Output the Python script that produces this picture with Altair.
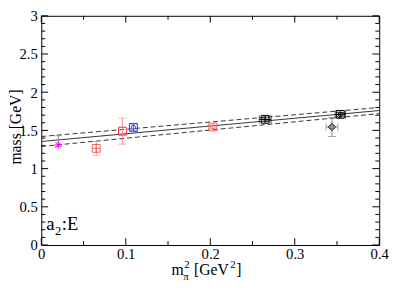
import altair as alt
import pandas as pd

# ---- data ----
mpi2 = [0.020, 0.065, 0.096, 0.109, 0.203, 0.265, 0.344, 0.354]
mass = [1.31, 1.265, 1.49, 1.54, 1.545, 1.645, 1.545, 1.71]
mass_err_lo = [0.02, 0.09, 0.17, 0.045, 0.025, 0.03, 0.125, 0.025]
mass_err_hi = [0.12, 0.09, 0.17, 0.045, 0.025, 0.03, 0.125, 0.025]
mpi2_err = [0.0, 0.0, 0.0, 0.0, 0.0, 0.007, 0.007, 0.006]
point_colors = ["#ff00ff", "#f06060", "#e83030", "#2040ff", "#f06060", "#000000", "#404040", "#000000"]
err_colors = ["#909090", "#f49090", "#f49090", "#4060ff", "#f49090", "#000000", "#808080", "#000000"]
outer_shape = ["asterisk", "square", "square", "square", "square", "square", "diamond", "square"]
inner_shape = ["none", "plus", "none", "circle", "circle", "plus", "circle", "circle"]

fit_x = [0.0, 0.4]
fit_central = [1.355, 1.76]
fit_upper = [1.42, 1.80]
fit_lower = [1.29, 1.72]

x_labels = [0.0, 0.1, 0.2, 0.3, 0.4]
x_minor = [0.05, 0.15, 0.25, 0.35]
y_labels = [0.0, 0.5, 1.0, 1.5, 2.0, 2.5, 3.0]
y_minor = [round(i * 0.1, 1) for i in range(31) if i % 5 != 0]

W, H = 345, 234
FONT = "Liberation Serif"

PATHS = {
    "asterisk": "M-1,0L1,0M0,-1L0,1M-0.7,-0.7L0.7,0.7M-0.7,0.7L0.7,-0.7",
    "plus": "M-1,0L1,0M0,-1L0,1",
    "square": "square",
    "diamond": "diamond",
    "circle": "circle",
}

df = pd.DataFrame({
    "x": mpi2, "y": mass,
    "lo": [m - e for m, e in zip(mass, mass_err_lo)],
    "hi": [m + e for m, e in zip(mass, mass_err_hi)],
    "xlo": [a - e for a, e in zip(mpi2, mpi2_err)],
    "xhi": [a + e for a, e in zip(mpi2, mpi2_err)],
    "xerr": mpi2_err,
    "pcol": point_colors, "ecol": err_colors,
    "outer": [PATHS[s] for s in outer_shape],
    "inner": inner_shape,
})

xscale = alt.Scale(domain=[0, 0.4], nice=False, zero=False)
yscale = alt.Scale(domain=[0, 3], nice=False, zero=False)

xaxis = alt.Axis(values=x_labels, format="~g", ticks=False, domain=False, grid=False,
                 labelFont=FONT, labelFontSize=15, labelColor="black",
                 labelPadding=2, labelFlush=False, labelOverlap=False, title=None)
yaxis = alt.Axis(values=y_labels, format="~g", ticks=False, domain=False, grid=False,
                 labelFont=FONT, labelFontSize=15, labelColor="black",
                 labelPadding=4, labelFlush=False, labelOverlap=False,
                 title="mass [GeV]", titleFont=FONT, titleFontSize=16,
                 titleFontWeight="normal", titleColor="black",
                 titleAngle=270, titleX=-34, titleY=113,
                 titleAlign="center", titleBaseline="top")


def X(field, **kw):
    return alt.X(field, type="quantitative", scale=xscale, axis=xaxis, **kw)


def Y(field, **kw):
    return alt.Y(field, type="quantitative", scale=yscale, axis=yaxis, **kw)


base = alt.Chart(df)

# error bars (vertical)
vbar = base.mark_rule(strokeWidth=1).encode(
    x=X("x"), y=Y("lo"), y2="hi", color=alt.Color("ecol:N", scale=None))
vcap_lo = base.mark_point(shape="M-1,0L1,0", size=64, filled=False, strokeWidth=1).encode(
    x=X("x"), y=Y("lo"), color=alt.Color("ecol:N", scale=None))
vcap_hi = base.mark_point(shape="M-1,0L1,0", size=64, filled=False, strokeWidth=1).encode(
    x=X("x"), y=Y("hi"), color=alt.Color("ecol:N", scale=None))

# error bars (horizontal)
hbase = base.transform_filter("datum.xerr > 0")
hbar = hbase.mark_rule(strokeWidth=1).encode(
    x=X("xlo"), x2="xhi", y=Y("y"), color=alt.Color("ecol:N", scale=None))
hcap_lo = hbase.mark_point(shape="M0,-1L0,1", size=64, filled=False, strokeWidth=1).encode(
    x=X("xlo"), y=Y("y"), color=alt.Color("ecol:N", scale=None))
hcap_hi = hbase.mark_point(shape="M0,-1L0,1", size=64, filled=False, strokeWidth=1).encode(
    x=X("xhi"), y=Y("y"), color=alt.Color("ecol:N", scale=None))

# markers
outer = base.mark_point(size=64, filled=False, strokeWidth=1, opacity=1).encode(
    x=X("x"), y=Y("y"), shape=alt.Shape("outer:N", scale=None),
    color=alt.Color("pcol:N", scale=None))
inner_circ = base.transform_filter("datum.inner == 'circle'").mark_point(
    shape="circle", size=18, filled=False, strokeWidth=1, opacity=1).encode(
    x=X("x"), y=Y("y"), color=alt.Color("pcol:N", scale=None))
inner_plus = base.transform_filter("datum.inner == 'plus'").mark_point(
    shape="M-1,0L1,0M0,-1L0,1", size=64, filled=False, strokeWidth=1, opacity=1).encode(
    x=X("x"), y=Y("y"), color=alt.Color("pcol:N", scale=None))

# fit lines
fit_df = pd.DataFrame({"x": fit_x * 3,
                       "y": fit_central + fit_upper + fit_lower,
                       "k": ["c"] * 2 + ["u"] * 2 + ["l"] * 2})
fit_c = alt.Chart(fit_df).transform_filter("datum.k == 'c'").mark_line(
    color="#333333", strokeWidth=1).encode(x=X("x"), y=Y("y"))
fit_b = alt.Chart(fit_df).transform_filter("datum.k != 'c'").mark_line(
    color="#333333", strokeWidth=1, strokeDash=[5, 3]).encode(
    x=X("x"), y=Y("y"), detail="k:N")


# inward ticks
def xticks(vals, L):
    d = alt.Chart(pd.DataFrame({"v": vals}))
    b = d.mark_rule(color="black", strokeWidth=1).encode(
        x=X("v"), y=alt.value(H), y2=alt.value(H - L))
    t = d.mark_rule(color="black", strokeWidth=1).encode(
        x=X("v"), y=alt.value(0), y2=alt.value(L))
    return [b, t]


def yticks(vals, L):
    d = alt.Chart(pd.DataFrame({"v": vals}))
    l = d.mark_rule(color="black", strokeWidth=1).encode(
        y=Y("v"), x=alt.value(0), x2=alt.value(L))
    r = d.mark_rule(color="black", strokeWidth=1).encode(
        y=Y("v"), x=alt.value(W), x2=alt.value(W - L))
    return [l, r]


ticks = xticks(x_labels, 7) + xticks(x_minor, 4) + yticks(y_labels, 7) + yticks(y_minor, 4)

# texts
one = pd.DataFrame({"a": [0]})


def txt(s, x, y, size, align="left"):
    return alt.Chart(one).mark_text(text=s, font=FONT, fontSize=size, color="black",
                                    align=align, baseline="alphabetic").encode(
        x=alt.value(x), y=alt.value(y))


texts = [
    txt("m", 133, 265, 16),
    txt("\u03c0", 145, 270, 11),
    txt("2", 146, 257, 11),
    txt("[GeV", 156, 265, 16),
    txt("2", 193, 257, 11),
    txt("]", 199, 265, 16),
    txt("a", 5, 219, 19),
    txt("2", 14, 224, 13),
    txt(":E", 21, 219, 19),
]

chart = alt.layer(
    fit_b, fit_c, *ticks, vbar, vcap_lo, vcap_hi, hbar, hcap_lo, hcap_hi,
    outer, inner_circ, inner_plus, *texts
).properties(
    width=W, height=H,
    autosize=alt.AutoSizeParams(type="none"),
    padding={"left": 34, "top": 5, "right": 11, "bottom": 45},
    background="white",
).configure(
    font=FONT
).configure_view(
    stroke="black", strokeWidth=1
).configure_axis(
    labelFont=FONT, labelFontSize=15, labelColor="black",
    titleFont=FONT, titleFontSize=16, titleFontWeight="normal", titleColor="black"
)

chart.save("out.html", embed_options={"renderer": "svg", "actions": False})
